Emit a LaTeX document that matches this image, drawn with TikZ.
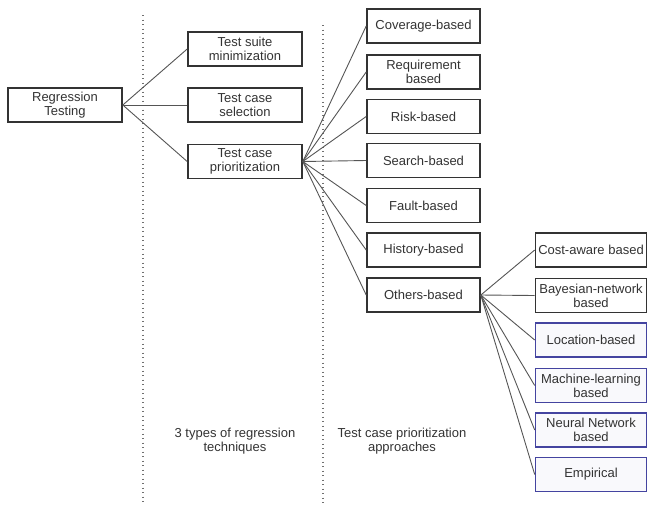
\documentclass[tikz,border=0pt]{standalone}
\usepackage{fontspec}
\setmainfont{Liberation Sans}
\usetikzlibrary{positioning}
\definecolor{ink}{HTML}{333333}
\definecolor{wire}{HTML}{555555}
\definecolor{indigo}{HTML}{4444A0}
\definecolor{dots}{HTML}{707070}

\begin{document}
\begin{tikzpicture}[x=1pt,y=-1pt,
  every node/.style={font=\fontsize{13}{14}\selectfont,align=center,text=ink},
  box/.style={draw=ink,line width=1.6pt,fill=white,inner sep=1pt,minimum height=34pt},
  wide/.style={box,minimum width=114pt},
  mid/.style={box,minimum width=113pt},
  edge/.style={box,minimum width=111pt},
  bluebox/.style={edge,draw=indigo,fill=indigo!3},
  link/.style={draw=wire,line width=0.9pt},
  divider/.style={draw=dots,line width=1.3pt,dash pattern=on 1.3pt off 3.2pt}]
\useasboundingbox (0,0) rectangle (647,504);
% column dividers
\draw[divider] (143,15) -- (143,504);
\draw[divider] (323,25) -- (323,504);
% regression techniques
\node[wide] (reg) at (65,105) {Regression\\Testing};
\node[wide] (suite) at (245,49) {Test suite\\minimization};
\node[wide] (sel) at (245,105) {Test case\\selection};
\node[wide] (prio) at (245,161.5) {Test case\\prioritization};
\foreach \t in {suite,sel,prio}{
\draw[link] (reg.east) -- (\t.west);}
% prioritization approaches
\node[mid] (cov) at (423.5,26) {Coverage-based};
\node[mid] (req) at (423.5,72) {Requirement\\based};
\node[mid] (risk) at (423.5,116.5) {Risk-based};
\node[mid] (search) at (423.5,160.5) {Search-based};
\node[mid] (fault) at (423.5,205.5) {Fault-based};
\node[mid] (hist) at (423.5,250) {History-based};
\node[mid] (other) at (423.5,295) {Others-based};
\foreach \t in {cov,req,risk,search,fault,hist,other}{
\draw[link] (prio.east) -- (\t.west);}
% other approaches
\node[edge] (cost) at (591,250) {Cost-aware based};
\node[edge] (bayes) at (591,295.5) {Bayesian-network\\based};
\node[bluebox] (loc) at (591,340) {Location-based};
\node[bluebox] (ml) at (591,385.5) {Machine-learning\\based};
\node[bluebox] (nn) at (591,430) {Neural Network\\based};
\node[bluebox] (emp) at (591,474.5) {Empirical};
\foreach \t in {cost,bayes,loc,ml,nn,emp}{
\draw[link] (other.east) -- (\t.west);}
% captions
\node (capa) at (235,441) {3 types of regression\\techniques};
\node (capb) at (402,441) {Test case prioritization\\approaches};
\end{tikzpicture}
\end{document}
